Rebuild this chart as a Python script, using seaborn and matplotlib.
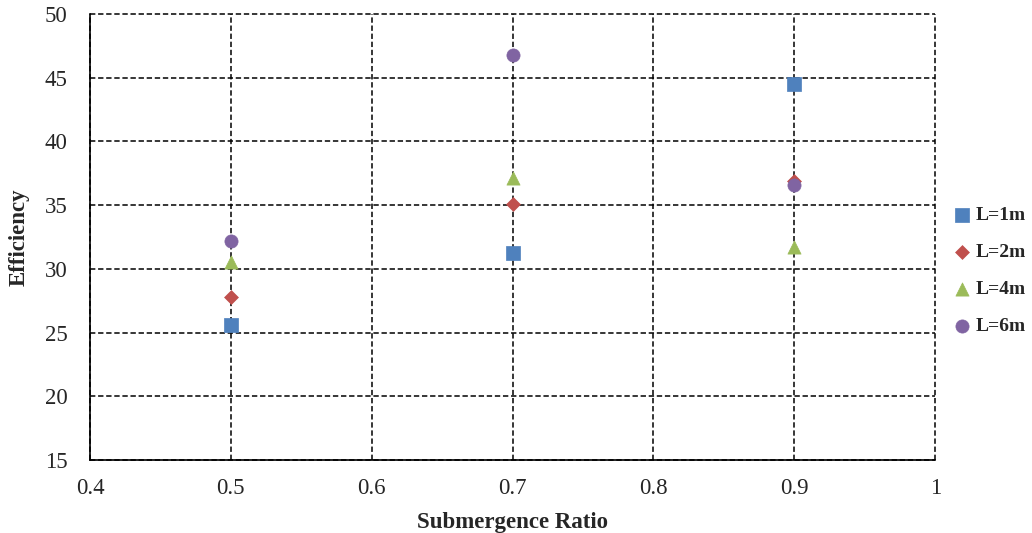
import matplotlib
matplotlib.use("Agg")
import matplotlib.pyplot as plt
import seaborn as sns
import pandas as pd

ratios = [0.5, 0.7, 0.9]
series_names = ["L=1m", "L=2m", "L=4m", "L=6m"]
eff_1m = [25.6, 31.2, 44.5]
eff_2m = [27.8, 35.1, 36.9]
eff_4m = [30.5, 37.1, 31.7]
eff_6m = [32.2, 46.8, 36.6]

colors = ["#4F81BD", "#C0504D", "#9BBB59", "#8064A2"]
markers = ["s", "D", "^", "o"]
sizes = [90, 50, 90, 90]

rows = []
for name, vals in zip(series_names, [eff_1m, eff_2m, eff_4m, eff_6m]):
    for x, y in zip(ratios, vals):
        rows.append({"Submergence Ratio": x, "Efficiency": y, "Series": name})
df = pd.DataFrame(rows)

sns.set_style("white")
plt.rcParams["font.family"] = ["Liberation Serif", "DejaVu Serif"]

fig = plt.figure(figsize=(10.32, 5.33), dpi=100)
ax = fig.add_axes([0.0872, 0.137, 0.8190, 0.837])

for name, c, m, s in zip(series_names, colors, markers, sizes):
    sub = df[df["Series"] == name]
    sns.scatterplot(data=sub, x="Submergence Ratio", y="Efficiency", color=c,
                    marker=m, s=s, edgecolor=c, linewidth=0.5, ax=ax,
                    label=name, zorder=3)

ax.set_xlim(0.4, 1.0)
ax.set_ylim(15, 50)
ax.set_xticks([0.4, 0.5, 0.6, 0.7, 0.8, 0.9, 1.0])
ax.set_xticklabels(["0.4", "0.5", "0.6", "0.7", "0.8", "0.9", "1"])
ax.set_yticks(range(15, 51, 5))
ax.grid(True, color="black", linestyle=(0, (3.5, 1.8)), linewidth=1.1)
ax.set_axisbelow(True)
ax.spines["top"].set_visible(False)
ax.spines["right"].set_visible(False)
for side in ["left", "bottom"]:
    ax.spines[side].set_color("black")
    ax.spines[side].set_linewidth(1.2)
ax.tick_params(axis="both", labelsize=16.5, direction="in", length=4, color="black")
ax.tick_params(axis="y", pad=16)
ax.tick_params(axis="x", pad=13)
ax.set_xlabel("Submergence Ratio", fontsize=16.5, fontweight="bold", labelpad=9)
ax.set_ylabel("Efficiency", fontsize=16.5, fontweight="bold", labelpad=11)

for gl in ax.get_xgridlines() + ax.get_ygridlines():
    gl.set_clip_on(False)

leg = ax.legend(loc="center left", bbox_to_anchor=(0.997, 0.424), frameon=False,
                prop={"family": "Liberation Serif", "weight": "bold", "size": 14},
                handletextpad=0.1, labelspacing=1.0, handlelength=1.2, borderaxespad=0.5)

fig.savefig("out.png", dpi=100)
